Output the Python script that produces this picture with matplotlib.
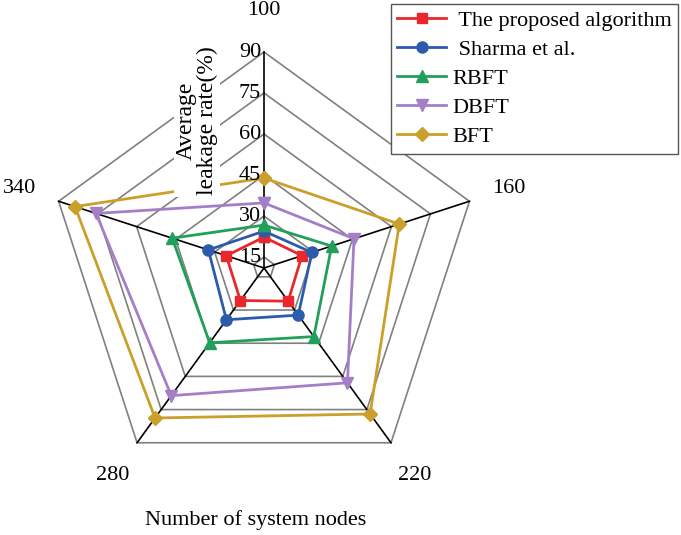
import numpy as np
import matplotlib
matplotlib.use("Agg")
import matplotlib.pyplot as plt
import matplotlib.transforms as mtrans

plt.rcParams['font.family'] = ['Liberation Serif', 'DejaVu Serif']

categories = ['100', '160', '220', '280', '340']
radial_ticks = [15, 30, 45, 60, 75, 90]
series_names = [' The proposed algorithm', ' Sharma et al.', 'RBFT', 'DBFT', 'BFT']
proposed = [22.3, 25.6, 26.0, 25.7, 25.5]
sharma = [24.5, 29.4, 32.3, 34.4, 32.4]
rbft = [26.7, 37.0, 42.0, 44.8, 46.3]
dbft = [34.8, 45.6, 62.9, 68.7, 75.6]
bft = [43.9, 63.0, 77.0, 78.8, 83.7]
series = [proposed, sharma, rbft, dbft, bft]

colors = ['#E8282C', '#2B5CAB', '#21A05B', '#A47FC8', '#C9A02B']
markers = ['s', 'o', '^', 'v', 'D']
msizes = [7, 8, 8, 8, 7]

r_min, r_max = 11, 90
n = len(categories)
theta = np.pi / 2 - 2 * np.pi * np.arange(n) / n
theta_c = np.append(theta, theta[0])

fig = plt.figure(figsize=(6.81, 5.35), dpi=100)
ax = fig.add_axes([0.0705, 0.0953, 0.6344, 0.8075], projection='polar')
ax.set_ylim(r_min, r_max)
ax.set_axis_off()

# pentagon gridlines
for t in radial_ticks:
    ax.plot(theta_c, [t] * (n + 1), color='#808080', lw=1.2, zorder=1, clip_on=False)
# spokes
for th in theta:
    ax.plot([th, th], [r_min, r_max], color='black', lw=1.2, zorder=2, clip_on=False)

# tick labels
shift = ax.transData + mtrans.ScaledTranslation(-3 / 100, 0, fig.dpi_scale_trans)
for t in radial_ticks:
    ax.text(np.pi / 2, t, str(t), ha='right', va='center', fontsize=16,
            transform=shift, zorder=6)

# category labels
for th, lab in zip(theta, categories):
    ax.text(th, 105, lab, ha='center', va='center', fontsize=16, clip_on=False)

# series
for vals, name, c, m, ms in zip(series, series_names, colors, markers, msizes):
    v = np.append(vals, vals[0])
    ax.plot(theta_c, v, color=c, marker=m, markersize=ms, lw=2, label=name,
            zorder=4, clip_on=False)

fig.text(0.289, 0.774, 'Average\nleakage rate(%)', rotation=90, ha='center', va='center',
         fontsize=17, linespacing=1.05, zorder=10,
         bbox=dict(facecolor='white', edgecolor='none', pad=1))

fig.text(0.376, 0.028, 'Number of system nodes', ha='center', va='center', fontsize=16)

leg = fig.legend(loc='upper right', bbox_to_anchor=(0.996, 0.993), fontsize=16,
                 frameon=True, fancybox=False, edgecolor='#555555', framealpha=1,
                 handlelength=2.2, handletextpad=0.3, labelspacing=0.38,
                 borderpad=0.3, borderaxespad=0)
leg.get_frame().set_linewidth(1.0)

fig.savefig('out.png', dpi=100)
